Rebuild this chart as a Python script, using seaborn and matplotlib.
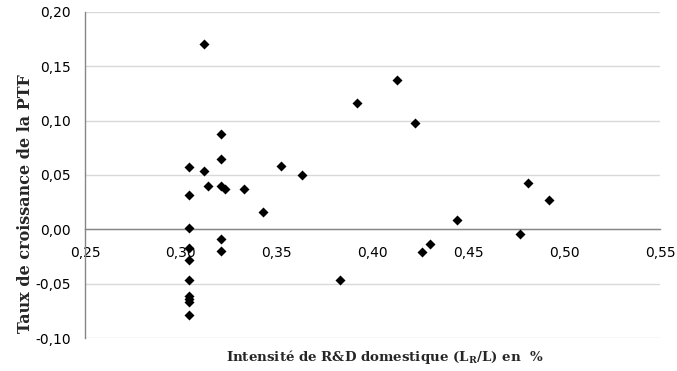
import matplotlib
matplotlib.use("Agg")
import matplotlib.pyplot as plt
import seaborn as sns
import pandas as pd
from matplotlib.ticker import FuncFormatter

# Data
intensite_rd = [0.312, 0.321, 0.321, 0.304, 0.312, 0.352, 0.363, 0.314, 0.321, 0.323,
                0.333, 0.304, 0.343, 0.304, 0.321, 0.321, 0.304, 0.304, 0.304, 0.304,
                0.304, 0.304, 0.304, 0.383, 0.392, 0.413, 0.422, 0.426, 0.430, 0.444,
                0.477, 0.481, 0.492]
croissance_ptf = [0.170, 0.088, 0.065, 0.057, 0.054, 0.058, 0.050, 0.040, 0.040, 0.037,
                  0.037, 0.032, 0.016, 0.001, -0.009, -0.020, -0.017, -0.028, -0.046, -0.061,
                  -0.064, -0.067, -0.079, -0.046, 0.116, 0.137, 0.098, -0.021, -0.013, 0.009,
                  -0.004, 0.043, 0.027]

x_ticks = [0.25, 0.30, 0.35, 0.40, 0.45, 0.50, 0.55]
y_ticks = [-0.10, -0.05, 0.00, 0.05, 0.10, 0.15, 0.20]
x_title = "Intensité de R&D domestique (L$_\\mathregular{R}$/L) en  %"
y_title = "Taux de croissance de la PTF"

df = pd.DataFrame({"x": intensite_rd, "y": croissance_ptf})

sns.set_style("white")
plt.rcParams["font.family"] = ["DejaVu Sans"]
plt.rcParams["mathtext.default"] = "regular"

fig = plt.figure(figsize=(6.77, 3.71), dpi=100)
ax = fig.add_axes([85/677, 1-338.3/371, (660-85)/677, (338.3-11.7)/371])

sns.scatterplot(data=df, x="x", y="y", marker="D", s=26, color="black",
                linewidth=0, ax=ax, zorder=3)

ax.set_xlim(x_ticks[0], x_ticks[-1])
ax.set_ylim(y_ticks[0], y_ticks[-1])
ax.set_xticks(x_ticks)
ax.set_yticks(y_ticks)
fmt = FuncFormatter(lambda v, p: f"{v:.2f}".replace(".", ","))
ax.xaxis.set_major_formatter(fmt)
ax.yaxis.set_major_formatter(fmt)

ax.yaxis.grid(True, color="#d9d9d9", linewidth=1)
ax.xaxis.grid(False)
ax.set_axisbelow(True)

for s in ["top", "right"]:
    ax.spines[s].set_visible(False)
ax.spines["bottom"].set_position(("data", 0))
ax.spines["bottom"].set_color("#868686")
ax.spines["left"].set_color("#868686")
ax.spines["bottom"].set_linewidth(1)
ax.spines["left"].set_linewidth(1)

ax.tick_params(axis="x", direction="out", length=4, color="#868686", labelsize=10,
               pad=8, labelcolor="black")
ax.tick_params(axis="y", direction="out", length=4, color="#868686", labelsize=10,
               pad=6, labelcolor="black")
ax.set_xlabel("")
ax.set_ylabel("")

fig.text(385/677, 1-357/371, x_title, ha="center", va="center",
         fontsize=9.6, fontweight="bold", family=["DejaVu Serif"])
fig.text(26/677, 1-204/371, y_title, ha="center", va="center", rotation=90,
         fontsize=11.5, fontweight="bold", family=["DejaVu Serif"])

fig.savefig("out.png", dpi=100)
